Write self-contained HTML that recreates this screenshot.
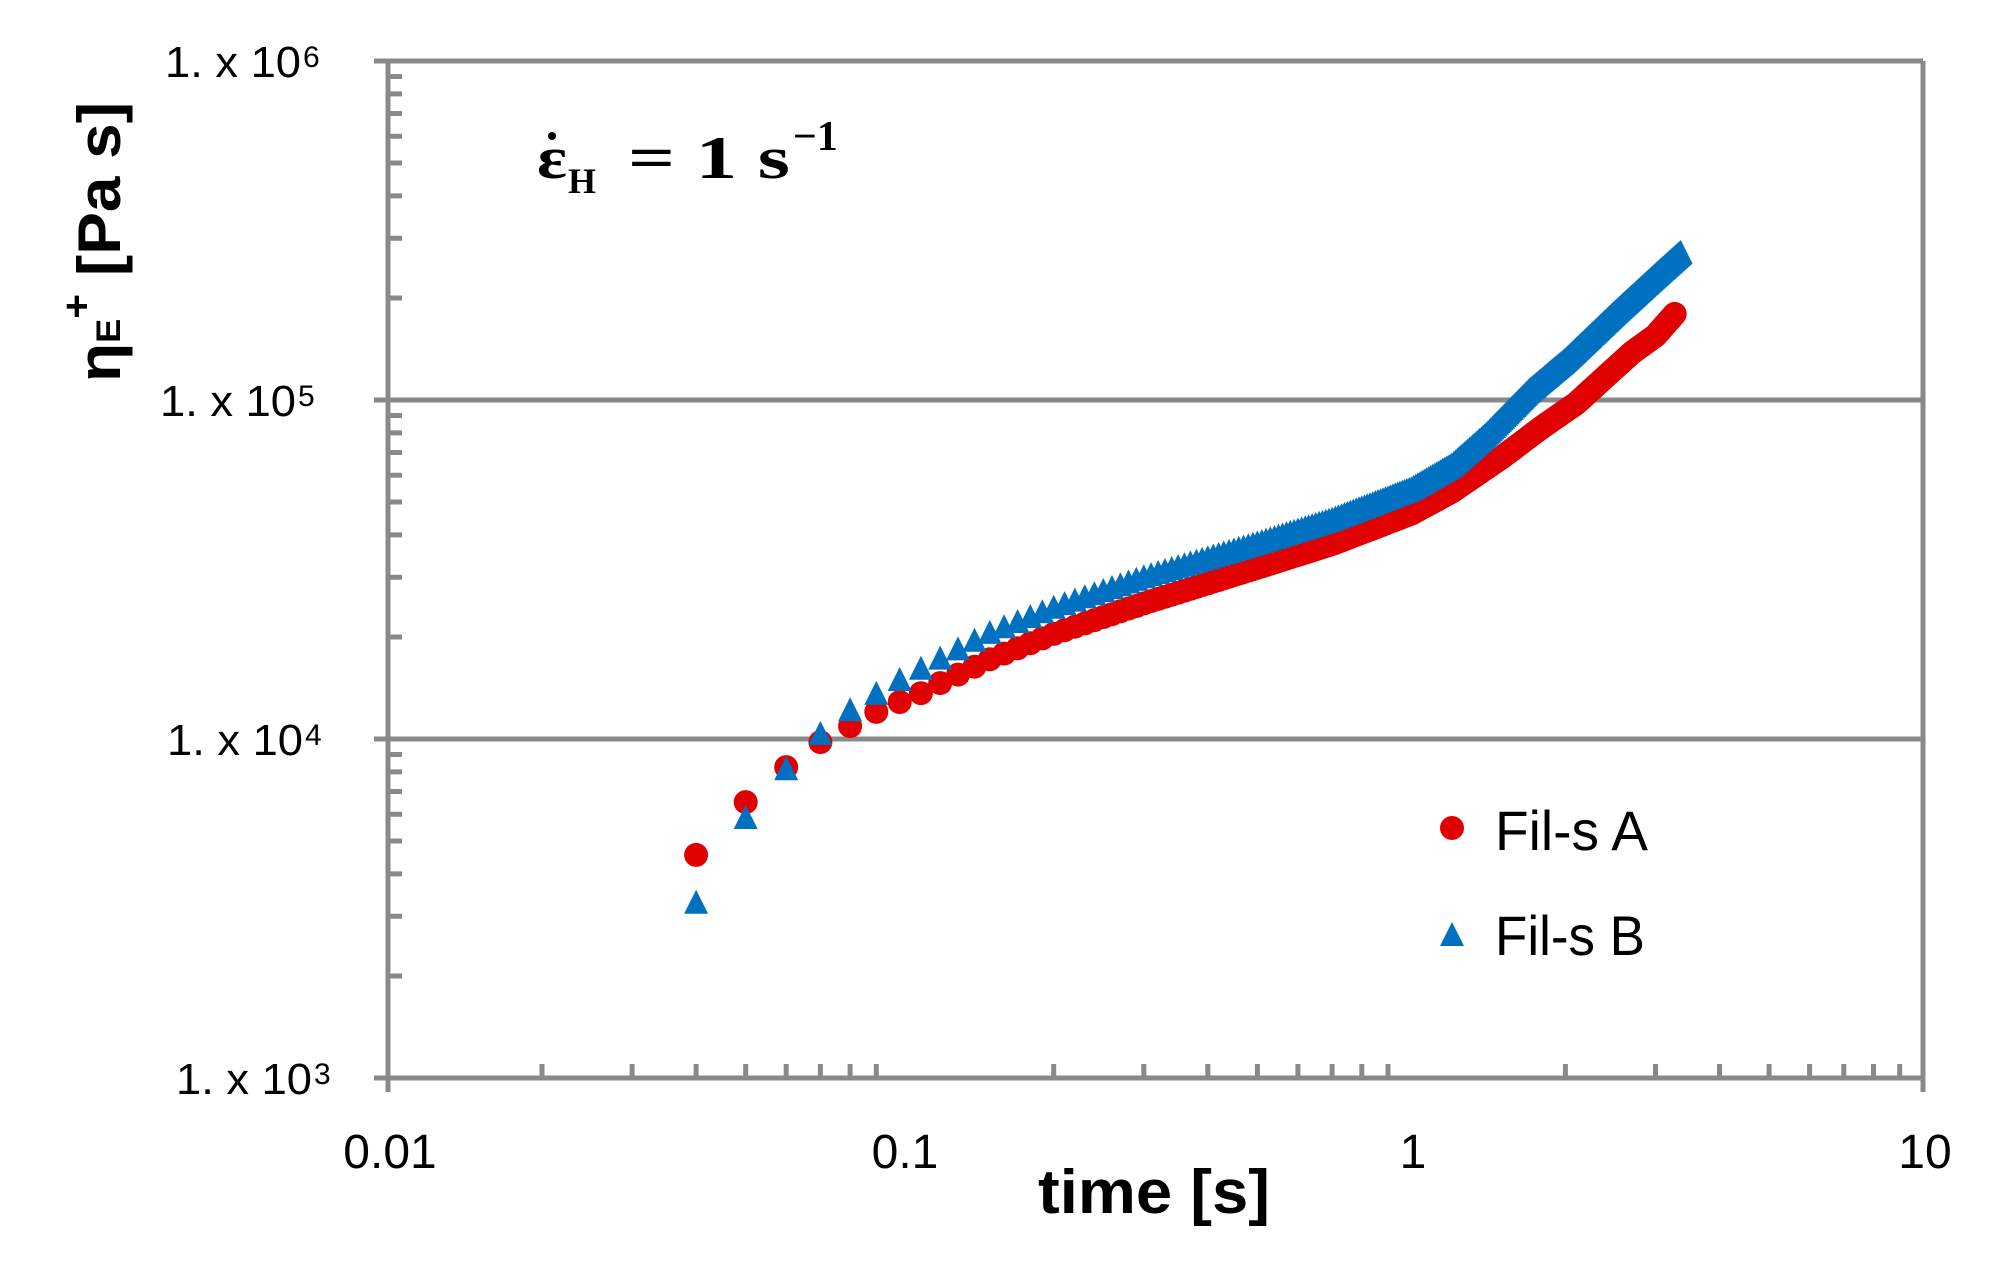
<!DOCTYPE html>
<html><head><meta charset="utf-8">
<style>html,body{margin:0;padding:0;background:#fff}svg{display:block}</style>
</head><body>
<svg id="s" width="1998" height="1271" viewBox="0 0 1998 1271" xmlns="http://www.w3.org/2000/svg">
<rect width="1998" height="1271" fill="#fff"/>
<g id="axes" stroke="#898989" stroke-width="5" fill="none"></g>
<g id="red" fill="#e00000"></g>
<g id="blue" fill="#0070c0"></g>
<g font-family="'Liberation Sans Narrow','Liberation Sans',sans-serif" font-size="44" fill="#000">
<text x="165" y="77" textLength="136" lengthAdjust="spacingAndGlyphs">1. x 10</text><text x="303" y="67" font-size="30">6</text>
<text x="160" y="416" textLength="136" lengthAdjust="spacingAndGlyphs">1. x 10</text><text x="298" y="406" font-size="30">5</text>
<text x="167" y="755" textLength="136" lengthAdjust="spacingAndGlyphs">1. x 10</text><text x="305" y="745" font-size="30">4</text>
<text x="176" y="1094" textLength="136" lengthAdjust="spacingAndGlyphs">1. x 10</text><text x="314" y="1084" font-size="30">3</text>
</g>
<g font-family="'Liberation Sans',sans-serif" font-size="48" fill="#000" text-anchor="middle">
<text x="390" y="1168">0.01</text>
<text x="905" y="1168">0.1</text>
<text x="1413" y="1168">1</text>
<text x="1925" y="1168">10</text>
</g>
<text x="1038" y="1213" font-family="'Liberation Sans',sans-serif" font-weight="bold" font-size="62" textLength="232" lengthAdjust="spacingAndGlyphs">time [s]</text>
<g transform="translate(120,242) rotate(-90)" font-family="'Liberation Sans',sans-serif" font-weight="bold" font-size="60" fill="#000">
<text x="-140" y="0" textLength="280" lengthAdjust="spacingAndGlyphs">η<tspan font-size="34" dy="0">E</tspan><tspan font-size="40" dy="-30">+</tspan><tspan dy="30"> [Pa s]</tspan></text>
</g>
<g font-family="'Liberation Serif',serif" font-weight="bold" fill="#000">
<text x="537" y="178" font-size="60" textLength="30" lengthAdjust="spacingAndGlyphs">ε</text>
<circle cx="552" cy="136" r="4"/>
<text x="568" y="193" font-size="36">H</text>
<text x="628" y="178" font-size="60" textLength="162" lengthAdjust="spacingAndGlyphs">= 1 s</text>
<text x="793" y="150" font-size="42">−1</text>
</g>
<circle cx="1452" cy="828" r="12" fill="#e00000"/>
<polygon points="1440,946 1464,946 1452,922" fill="#0070c0"/>
<g font-family="'Liberation Sans',sans-serif" font-size="56" fill="#000">
<text x="1495" y="850" textLength="153" lengthAdjust="spacingAndGlyphs">Fil-s A</text>
<text x="1495" y="955" textLength="150" lengthAdjust="spacingAndGlyphs">Fil-s B</text>
</g>
</svg>
<script>
(function(){
var NS="http://www.w3.org/2000/svg";
function X(t){return 388+(Math.log10(t)+2)*511.7;}
function Y(lv){return 61+(6-lv)*339;}
var ax=document.getElementById("axes"),d="";
[6,5,4].forEach(function(e){var y=Y(e);d+="M374 "+y+"H1923 ";});
d+="M374 1078H1923 M388 61V1092 M1923 61V1092 ";
for(var e=3;e<6;e++)for(var k=2;k<10;k++){var y=Y(e+Math.log10(k));d+="M388 "+y.toFixed(1)+"H402 ";}
for(var e=-2;e<1;e++)for(var k=2;k<10;k++){var x=X(Math.pow(10,e)*k);d+="M"+x.toFixed(1)+" 1078V1064 ";}
var p=document.createElementNS(NS,"path");p.setAttribute("d",d);ax.appendChild(p);
var A=[[0.04,3.658],[0.05,3.814],[0.06,3.917],[0.07,3.991],[0.08,4.038],[0.09,4.08],[0.1,4.109],[0.11,4.135],[0.12,4.165],[0.13,4.19],[0.15,4.235],[0.2,4.31],[0.3,4.40],[0.5,4.505],[0.7,4.575],[1,4.665],[1.2,4.73],[1.5,4.83],[1.8,4.92],[2.1,4.99],[2.4,5.07],[2.7,5.14],[3,5.19],[3.27,5.254]];
var B=[[0.04,3.52],[0.05,3.77],[0.06,3.914],[0.07,4.018],[0.08,4.088],[0.09,4.136],[0.1,4.177],[0.11,4.21],[0.12,4.24],[0.15,4.316],[0.2,4.39],[0.3,4.48],[0.5,4.58],[0.7,4.65],[1,4.74],[1.2,4.81],[1.4,4.9],[1.7,5.03],[2,5.12],[2.5,5.26],[3,5.37],[3.36,5.437]];
function interp(P,t){var lt=Math.log10(t);for(var i=0;i<P.length-1;i++){var a=Math.log10(P[i][0]),b=Math.log10(P[i+1][0]);if(lt<=b+1e-9){return P[i][1]+(P[i+1][1]-P[i][1])*(lt-a)/(b-a);}}return P[P.length-1][1];}
var r=document.getElementById("red"),bl=document.getElementById("blue");
for(var i=4;i<=327;i++){var t=i/100;var c=document.createElementNS(NS,"circle");c.setAttribute("cx",X(t).toFixed(1));c.setAttribute("cy",Y(interp(A,t)).toFixed(1));c.setAttribute("r","12");r.appendChild(c);}
for(var i=4;i<=336;i++){var t=i/100;var x=X(t),y=Y(interp(B,t));var g=document.createElementNS(NS,"polygon");g.setAttribute("points",(x-12).toFixed(1)+","+(y+12).toFixed(1)+" "+(x+12).toFixed(1)+","+(y+12).toFixed(1)+" "+x.toFixed(1)+","+(y-12).toFixed(1));bl.appendChild(g);}
})();
</script>
</body></html>
